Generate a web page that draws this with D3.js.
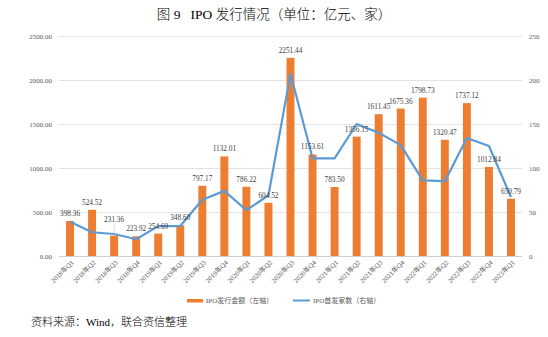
<!DOCTYPE html>
<html><head><meta charset="utf-8">
<script src="https://cdn.jsdelivr.net/npm/d3@7/dist/d3.min.js"></script>
<style>body{margin:0;background:#fff}svg{display:block}</style>
</head><body><svg id="c" width="548" height="337"></svg>
<script>
const categories = ["2018年Q1","2018年Q2","2018年Q3","2018年Q4","2019年Q1","2019年Q2","2019年Q3","2019年Q4","2020年Q1","2020年Q2","2020年Q3","2020年Q4","2021年Q1","2021年Q2","2021年Q3","2021年Q4","2022年Q1","2022年Q2","2022年Q3","2022年Q4","2023年Q1"];
const amounts = [398.36,524.52,231.36,223.92,254.69,348.60,797.17,1132.01,786.22,604.52,2251.44,1153.61,783.50,1356.15,1611.45,1675.36,1798.73,1320.47,1737.12,1012.84,650.79];
const counts = [39,27,25,19,34,34,64,74,52,69,207,111,111,150,140,126,86,85,134,125,67];
const leftTicks = [0,500,1000,1500,2000,2500];
const rightTicks = [0,50,100,150,200,250];
const title = "图 9\u00a0\u00a0\u00a0IPO 发行情况（单位：亿元、家）";
const legendNames = ["IPO发行金额（左轴）","IPO首发家数（右轴）"];
const source = "资料来源：Wind，联合资信整理";

const svg = d3.select("#c");
const m = {l:59, r:522, t:36, b:256};
const serif = "'Liberation Serif','Noto Sans CJK SC',serif";
const x = d3.scaleBand().domain(categories).range([m.l, m.r]).paddingInner(0.64).paddingOuter(0.32);
const yL = d3.scaleLinear().domain([0,2500]).range([m.b, m.t]);
const yR = d3.scaleLinear().domain([0,250]).range([m.b, m.t]);

svg.append("text").attr("x",274).attr("y",19).attr("text-anchor","middle")
  .attr("font-family",serif).attr("font-size",13.5).attr("font-weight",300).attr("fill","#000").text(title);

// grid
svg.append("g").selectAll("line").data(leftTicks).join("line")
  .attr("x1",m.l).attr("x2",m.r).attr("y1",d=>yL(d)+0.5).attr("y2",d=>yL(d)+0.5)
  .attr("stroke",d=>d===0?"#d0d0d0":"#e3e3e3").attr("stroke-width",1);

// left axis
const gl = svg.append("g").attr("transform",`translate(${m.l-7},0)`)
  .call(d3.axisLeft(yL).tickValues(leftTicks).tickFormat(d3.format(".2f")).tickSize(0).tickPadding(0));
gl.select(".domain").remove();
gl.selectAll("text").attr("font-family",serif).attr("font-size",7).attr("fill","#595959");

const gr = svg.append("g").attr("transform",`translate(${m.r+7},0)`)
  .call(d3.axisRight(yR).tickValues(rightTicks).tickSize(0).tickPadding(0));
gr.select(".domain").remove();
gr.selectAll("text").attr("font-family",serif).attr("font-size",7).attr("fill","#595959");

// bars
svg.append("g").selectAll("rect").data(amounts).join("rect")
  .attr("x",(d,i)=>x(categories[i])).attr("width",x.bandwidth())
  .attr("y",d=>yL(d)).attr("height",d=>m.b-yL(d)).attr("fill","#ED7D31");

// line
const line = d3.line().x((d,i)=>x(categories[i])+x.bandwidth()/2).y(d=>yR(d));
svg.append("path").datum(counts).attr("d",line).attr("fill","none")
  .attr("stroke","#5B9BD5").attr("stroke-width",2.2).attr("stroke-linejoin","round");

// bar labels
const lab = svg.append("g");
amounts.forEach((d,i)=>{
  const cx = x(categories[i])+x.bandwidth()/2;
  let y = yL(d)-5;
  if(i===2){
    y = yL(d)-14;
    lab.append("line").attr("x1",cx).attr("x2",cx).attr("y1",y+2).attr("y2",yL(d))
      .attr("stroke","#bfbfbf").attr("stroke-width",0.6);
  }
  lab.append("text").attr("x",cx).attr("y",y).attr("text-anchor","middle")
    .attr("font-family",serif).attr("font-size",7.3).attr("fill","#404040").text(d3.format(".2f")(d));
});

// x labels
svg.append("g").selectAll("text").data(categories).join("text")
  .attr("transform",d=>`translate(${x(d)+x.bandwidth()/2+3},${m.b+6}) rotate(-45)`)
  .attr("text-anchor","end").attr("dominant-baseline","middle")
  .attr("font-family",serif).attr("font-size",6.8).attr("fill","#595959").text(d=>d);

// legend
const lg = svg.append("g");
lg.append("rect").attr("x",187).attr("y",299).attr("width",16).attr("height",3.5).attr("fill","#ED7D31");
lg.append("text").attr("x",206).attr("y",301).attr("dominant-baseline","middle")
  .attr("font-family",serif).attr("font-size",7).attr("fill","#595959").text(legendNames[0]);
lg.append("line").attr("x1",293).attr("x2",310).attr("y1",300.5).attr("y2",300.5).attr("stroke","#5B9BD5").attr("stroke-width",2);
lg.append("text").attr("x",313).attr("y",301).attr("dominant-baseline","middle")
  .attr("font-family",serif).attr("font-size",7).attr("fill","#595959").text(legendNames[1]);

svg.append("text").attr("x",31).attr("y",326).attr("font-family",serif).attr("font-size",11).attr("font-weight",300).attr("fill","#000").text(source);
</script></body></html>
